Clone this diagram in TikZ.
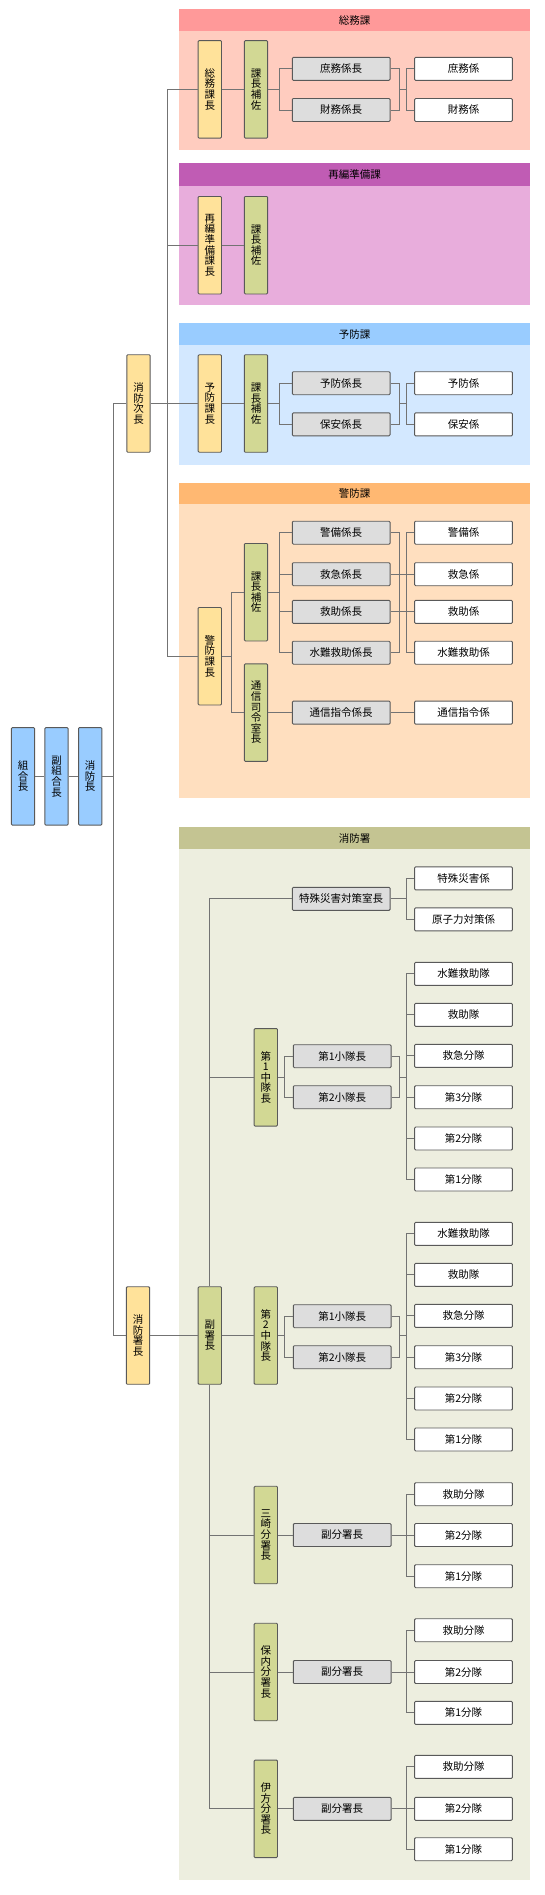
\documentclass[tikz,border=0pt]{standalone}
\usepackage{fontspec}
\setmainfont{Noto Sans CJK JP}

\definecolor{somuH}{HTML}{FF9999}
\definecolor{somuB}{HTML}{FFCCBF}
\definecolor{saihenH}{HTML}{C05CB4}
\definecolor{saihenB}{HTML}{E8ADDC}
\definecolor{yoboH}{HTML}{99CCFF}
\definecolor{yoboB}{HTML}{D3E8FF}
\definecolor{keiboH}{HTML}{FFB872}
\definecolor{keiboB}{HTML}{FFDFBF}
\definecolor{shoH}{HTML}{C4C492}
\definecolor{shoB}{HTML}{EDEEDF}
\definecolor{choY}{HTML}{FFE29A}
\definecolor{hosaG}{HTML}{D2D894}
\definecolor{kakariG}{HTML}{DDDDDD}
\definecolor{kanbuB}{HTML}{99CCFF}

\begin{document}
\begin{tikzpicture}[x=1pt,y=-1pt,
  every node/.style={font=\fontsize{10.5}{10.6}\selectfont,inner sep=0pt},
  tate/.style={rectangle,draw=black!65,line width=0.9pt,rounded corners=1pt,minimum width=23.3,minimum height=97.5,align=center},
  cho/.style={tate,fill=choY},
  hosa/.style={tate,fill=hosaG},
  kanbu/.style={tate,fill=kanbuB},
  kakari/.style={rectangle,draw=black!65,line width=0.9pt,rounded corners=1pt,fill=kakariG,minimum width=97.7,minimum height=23},
  han/.style={kakari,fill=white},
  ln/.style={draw=black!55,line width=1pt}]
\useasboundingbox (0,0) rectangle (545,1895);

% sections
\fill[somuH] (179,9.3) rectangle (530,31);
\fill[somuB] (179,31) rectangle (530,150);
\fill[saihenH] (179,163.3) rectangle (530,185.7);
\fill[saihenB] (179,185.7) rectangle (530,305);
\fill[yoboH] (179,323.3) rectangle (530,345);
\fill[yoboB] (179,345) rectangle (530,465.3);
\fill[keiboH] (179,482.7) rectangle (530,504.3);
\fill[keiboB] (179,504.3) rectangle (530,797.7);
\fill[shoH] (179,827.3) rectangle (530,849);
\fill[shoB] (179,849) rectangle (530,1880);
\node (H1) at (354.5,20.2) {総務課};
\node (H2) at (354.5,174.5) {再編準備課};
\node (H3) at (354.5,334.2) {予防課};
\node (H4) at (354.5,493.5) {警防課};
\node (H5) at (354.5,838.2) {消防署};

\coordinate (t1) at (113,0);
\coordinate (t2) at (167.3,0);
\coordinate (k1) at (231.5,0);
\coordinate (k2) at (279.8,0);
\coordinate (k3) at (284.3,0);
\coordinate (r1) at (399,0);
\coordinate (r2) at (406,0);

% top
\node[kanbu] (kumiai) at (23,776.3) {組\\合\\長};
\node[kanbu] (fukukumiai) at (56.5,776.3) {副\\組\\合\\長};
\node[kanbu] (shobocho) at (90.2,776.3) {消\\防\\長};
\node[cho] (jicho) at (138.5,403.5) {消\\防\\次\\長};
\node[cho] (shocho) at (138,1335.5) {消\\防\\署\\長};

% somu
\node[cho] (somu) at (209.8,89.3) {総\\務\\課\\長};
\node[hosa] (hosa1) at (256,89.3) {課\\長\\補\\佐};
\node[kakari] (shomuK) at (341.2,68.8) {庶務係長};
\node[kakari] (zaimuK) at (341.2,110) {財務係長};
\node[han] (shomu) at (463.5,68.8) {庶務係};
\node[han] (zaimu) at (463.5,110) {財務係};

% saihen
\node[cho] (saihen) at (209.8,245.2) {再\\編\\準\\備\\課\\長};
\node[hosa] (hosa2) at (256,245.2) {課\\長\\補\\佐};

% yobo
\node[cho] (yobo) at (209.8,403.5) {予\\防\\課\\長};
\node[hosa] (hosa3) at (256,403.5) {課\\長\\補\\佐};
\node[kakari] (yoboK) at (341.2,383.2) {予防係長};
\node[kakari] (hoanK) at (341.2,424.3) {保安係長};
\node[han] (yoboH) at (463.5,383.2) {予防係};
\node[han] (hoan) at (463.5,424.3) {保安係};

% keibo
\node[cho] (keibo) at (209.8,656.2) {警\\防\\課\\長};
\node[hosa] (hosa4) at (256,592.2) {課\\長\\補\\佐};
\node[hosa] (tsushin) at (256,712.6) {通\\信\\司\\令\\室\\長};
\node[kakari] (keibiK) at (341.2,532.7) {警備係長};
\node[kakari] (kyukyuK) at (341.2,574.2) {救急係長};
\node[kakari] (kyujoK) at (341.2,611.8) {救助係長};
\node[kakari] (suinanK) at (341.2,652.7) {水難救助係長};
\node[kakari] (shireiK) at (341.2,712.6) {通信指令係長};
\node[han] (keibi) at (463.5,532.7) {警備係};
\node[han] (kyukyu) at (463.5,574.2) {救急係};
\node[han] (kyujo) at (463.5,611.8) {救助係};
\node[han] (suinan) at (463.5,652.7) {水難救助係};
\node[han] (shirei) at (463.5,712.6) {通信指令係};

% shobosho
\node[hosa] (fukusho) at (209.8,1335.5) {副\\署\\長};
\node[kakari] (toku) at (341.2,898.8) {特殊災害対策室長};
\node[han] (tokushu) at (463.5,878.3) {特殊災害係};
\node[han] (genshi) at (463.5,919.3) {原子力対策係};

\node[hosa] (chu1) at (265.8,1077.3) {第\\1\\中\\隊\\長};
\node[kakari] (s11) at (342.2,1056.2) {第1小隊長};
\node[kakari] (s12) at (342.2,1097.2) {第2小隊長};
\node[han] (c1a) at (463.5,973.8) {水難救助隊};
\node[han] (c1b) at (463.5,1014.8) {救助隊};
\node[han] (c1c) at (463.5,1055.8) {救急分隊};
\node[han] (c1d) at (463.5,1097.2) {第3分隊};
\node[han] (c1e) at (463.5,1138.5) {第2分隊};
\node[han] (c1f) at (463.5,1179.5) {第1分隊};

\node[hosa] (chu2) at (265.8,1335.5) {第\\2\\中\\隊\\長};
\node[kakari] (s21) at (342.2,1316.2) {第1小隊長};
\node[kakari] (s22) at (342.2,1357.2) {第2小隊長};
\node[han] (c2a) at (463.5,1233.8) {水難救助隊};
\node[han] (c2b) at (463.5,1274.8) {救助隊};
\node[han] (c2c) at (463.5,1315.8) {救急分隊};
\node[han] (c2d) at (463.5,1357.2) {第3分隊};
\node[han] (c2e) at (463.5,1398.5) {第2分隊};
\node[han] (c2f) at (463.5,1439.5) {第1分隊};

\node[hosa] (misaki) at (265.8,1535) {三\\崎\\分\\署\\長};
\node[kakari] (fb1) at (342.2,1535) {副分署長};
\node[han] (m1) at (463.5,1494.2) {救助分隊};
\node[han] (m2) at (463.5,1535) {第2分隊};
\node[han] (m3) at (463.5,1576.2) {第1分隊};

\node[hosa] (honai) at (265.8,1672) {保\\内\\分\\署\\長};
\node[kakari] (fb2) at (342.2,1672) {副分署長};
\node[han] (n1) at (463.5,1630.2) {救助分隊};
\node[han] (n2) at (463.5,1672) {第2分隊};
\node[han] (n3) at (463.5,1712.8) {第1分隊};

\node[hosa] (ikata) at (265.8,1808.8) {伊\\方\\分\\署\\長};
\node[kakari] (fb3) at (342.2,1808.8) {副分署長};
\node[han] (i1) at (463.5,1766.8) {救助分隊};
\node[han] (i2) at (463.5,1808.8) {第2分隊};
\node[han] (i3) at (463.5,1849.2) {第1分隊};

% trunks
\draw[ln] (kumiai) -- (fukukumiai);
\draw[ln] (fukukumiai) -- (shobocho);
\draw[ln] (shobocho.east) -- (shobocho.east -| t1);
\draw[ln] (jicho.west) -- (jicho.west -| t1) |- (shocho.west);
\draw[ln] (somu.west) -- (somu.west -| t2) |- (keibo.west);
\draw[ln] (saihen.west) -- (saihen.west -| t2);
\draw[ln] (jicho.east) -- (yobo.west);
\draw[ln] (shocho) -- (fukusho);

% somu
\draw[ln] (somu) -- (hosa1);
\draw[ln] (hosa1.east) -- (hosa1.east -| k2) |- (shomuK.west);
\draw[ln] (hosa1.east -| k2) |- (zaimuK.west);
\draw[ln] (shomuK.east) -| (r1 |- zaimuK) -- (zaimuK.east);
\draw[ln] (hosa1 -| r1) -- (hosa1 -| r2);
\draw[ln] (shomu.west) -| (r2 |- zaimu) -- (zaimu.west);

\draw[ln] (saihen) -- (hosa2);

% yobo
\draw[ln] (yobo) -- (hosa3);
\draw[ln] (hosa3.east) -- (hosa3.east -| k2) |- (yoboK.west);
\draw[ln] (hosa3.east -| k2) |- (hoanK.west);
\draw[ln] (yoboK.east) -| (r1 |- hoanK) -- (hoanK.east);
\draw[ln] (hosa3 -| r1) -- (hosa3 -| r2);
\draw[ln] (yoboH.west) -| (r2 |- hoan) -- (hoan.west);

% keibo
\draw[ln] (keibo.east) -- (keibo.east -| k1) |- (hosa4.west);
\draw[ln] (keibo.east -| k1) |- (tsushin.west);
\draw[ln] (hosa4.east) -- (hosa4.east -| k2) |- (keibiK.west);
\draw[ln] (hosa4.east -| k2) |- (suinanK.west);
\draw[ln] (kyukyuK.west -| k2) -- (kyukyuK.west);
\draw[ln] (kyujoK.west -| k2) -- (kyujoK.west);
\draw[ln] (keibiK.east) -| (r1 |- suinanK) -- (suinanK.east);
\draw[ln] (keibi.west) -| (r2 |- suinan) -- (suinan.west);
\draw[ln] (kyukyuK) -- (kyukyu);
\draw[ln] (kyujoK) -- (kyujo);
\draw[ln] (tsushin) -- (shireiK);
\draw[ln] (shireiK) -- (shirei);

% shobosho
\draw[ln] (toku.west) -| (fukusho.north);
\draw[ln] (fukusho.south) |- (ikata.west);
\draw[ln] (chu1.west) -- (chu1.west -| fukusho.north);
\draw[ln] (misaki.west) -- (misaki.west -| fukusho.south);
\draw[ln] (honai.west) -- (honai.west -| fukusho.south);
\draw[ln] (fukusho) -- (chu2);
\draw[ln] (toku.east) -- (toku.east -| r2);
\draw[ln] (tokushu.west) -| (r2 |- genshi) -- (genshi.west);

\draw[ln] (chu1.east) -- (chu1.east -| k3) |- (s11.west);
\draw[ln] (chu1.east -| k3) |- (s12.west);
\draw[ln] (s11.east) -| (r1 |- s12) -- (s12.east);
\draw[ln] (chu1 -| r1) -- (chu1 -| r2);
\draw[ln] (c1a.west) -| (r2 |- c1f) -- (c1f.west);
\draw[ln] (c1b.west) -- (c1b.west -| r2);
\draw[ln] (c1c.west) -- (c1c.west -| r2);
\draw[ln] (c1d.west) -- (c1d.west -| r2);
\draw[ln] (c1e.west) -- (c1e.west -| r2);

\draw[ln] (chu2.east) -- (chu2.east -| k3) |- (s21.west);
\draw[ln] (chu2.east -| k3) |- (s22.west);
\draw[ln] (s21.east) -| (r1 |- s22) -- (s22.east);
\draw[ln] (chu2 -| r1) -- (chu2 -| r2);
\draw[ln] (c2a.west) -| (r2 |- c2f) -- (c2f.west);
\draw[ln] (c2b.west) -- (c2b.west -| r2);
\draw[ln] (c2c.west) -- (c2c.west -| r2);
\draw[ln] (c2d.west) -- (c2d.west -| r2);
\draw[ln] (c2e.west) -- (c2e.west -| r2);

\draw[ln] (misaki) -- (fb1);
\draw[ln] (fb1) -- (m2);
\draw[ln] (m1.west) -| (r2 |- m3) -- (m3.west);
\draw[ln] (honai) -- (fb2);
\draw[ln] (fb2) -- (n2);
\draw[ln] (n1.west) -| (r2 |- n3) -- (n3.west);
\draw[ln] (ikata) -- (fb3);
\draw[ln] (fb3) -- (i2);
\draw[ln] (i1.west) -| (r2 |- i3) -- (i3.west);

\end{tikzpicture}
\end{document}
